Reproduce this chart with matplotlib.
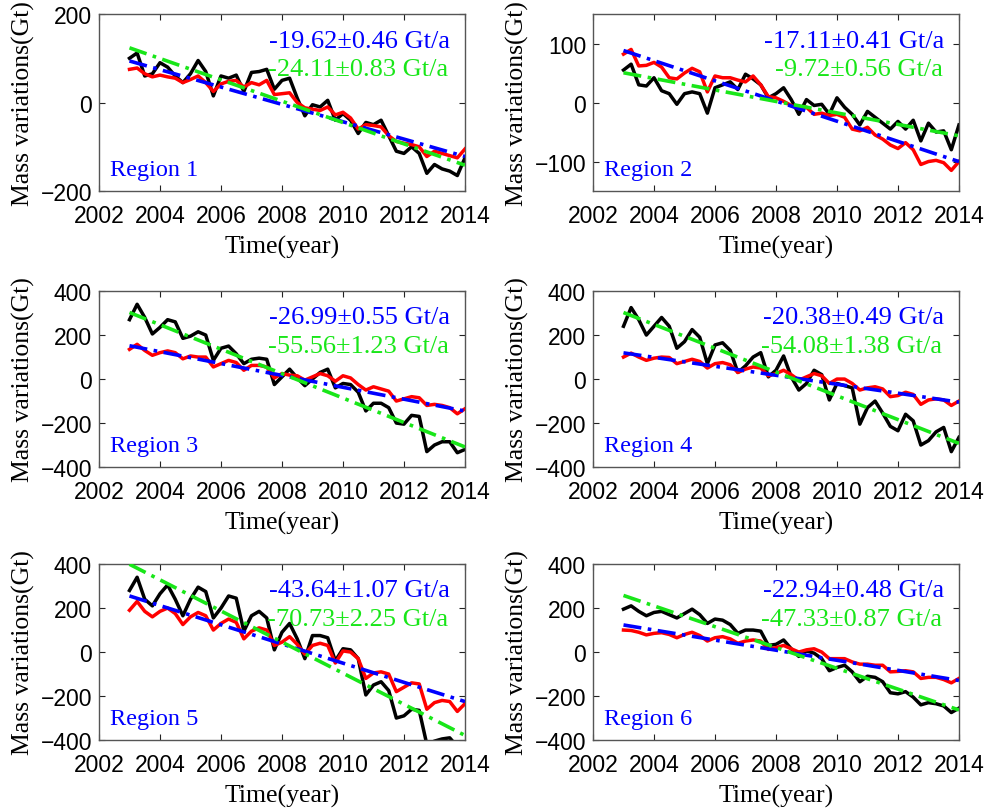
import numpy as np
import matplotlib
matplotlib.use("Agg")
import matplotlib.pyplot as plt

# quarterly sampling of the monthly curves
years = np.arange(2003.0, 2014.01, 0.25)

black_1 = [100, 112, 60, 65, 90, 80, 60, 45, 65, 95, 70, 15, 60, 55, 62, 25, 68, 70, 75, 30,
           50, 55, 10, -30, -5, -10, 5, -40, -25, -40, -70, -45, -50, -40, -75, -110, -115, -100,
           -115, -160, -140, -150, -155, -165, -125]
red_1 = [75, 78, 65, 58, 62, 58, 55, 45, 52, 60, 45, 25, 42, 48, 50, 35, 45, 40, 50, 18,
         20, 22, 0, -12, -15, -18, -10, -28, -22, -35, -60, -50, -52, -55, -75, -88, -92, -95,
         -100, -122, -110, -115, -120, -125, -105]

black_2 = [55, 65, 30, 28, 42, 20, 15, -3, 15, 18, 15, -18, 25, 30, 35, 22, 48, 40, 30, 8,
           15, 25, 5, -20, 5, -5, -3, -20, 8, -8, -20, -38, -15, -25, -35, -45, -32, -45,
           -30, -65, -35, -50, -48, -80, -38]
red_2 = [82, 90, 62, 63, 68, 60, 42, 40, 50, 58, 52, 18, 45, 42, 42, 38, 35, 45, 30, 10,
         8, 2, -5, -10, -8, -20, -18, -22, -20, -25, -45, -48, -42, -55, -62, -72, -78, -68,
         -80, -105, -100, -98, -102, -115, -100]

black_3 = [270, 340, 280, 205, 235, 270, 260, 185, 195, 215, 200, 85, 140, 150, 115, 70, 90, 95,
           90, -25, 10, 45, 5, -30, 0, 30, 45, -40, -20, -25, -60, -145, -110, -110, -130, -200,
           -205, -165, -170, -330, -300, -285, -285, -335, -320]
red_3 = [135, 158, 130, 108, 120, 128, 120, 92, 105, 100, 100, 55, 70, 85, 75, 40, 62, 62, 55, 5,
         25, 18, 15, -5, 10, 25, 15, -10, 15, 5, -25, -50, -35, -45, -55, -100, -90, -80, -85,
         -120, -115, -120, -130, -158, -135]

black_4 = [240, 325, 270, 200, 240, 280, 240, 140, 170, 225, 190, 70, 155, 165, 130, 30, 60, 100,
           120, 10, 40, 105, 10, -50, -20, 40, 20, -95, -20, -30, -40, -205, -130, -100, -155, -215,
           -235, -160, -190, -300, -280, -240, -220, -330, -265]
red_4 = [100, 118, 100, 85, 95, 100, 98, 70, 80, 90, 80, 50, 70, 75, 65, 30, 45, 55, 50, 15,
         25, 40, 20, -5, 10, 25, 15, -20, 0, 0, -20, -50, -40, -35, -45, -80, -75, -60, -70,
         -115, -95, -90, -95, -120, -100]

black_5 = [280, 340, 240, 210, 265, 305, 240, 165, 240, 295, 275, 155, 200, 255, 245, 95, 165, 185,
           155, 10, 90, 130, 60, -30, 75, 75, 65, -40, 15, 10, -30, -195, -150, -135, -175, -300,
           -290, -260, -265, -420, -405, -395, -390, -430, -420]
red_5 = [190, 230, 185, 160, 185, 200, 175, 125, 160, 180, 165, 100, 130, 150, 135, 60, 95, 110,
         100, 30, 45, 70, 35, -10, 30, 40, 30, -50, 5, 0, -30, -120, -95, -90, -100, -180, -160,
         -140, -145, -260, -230, -220, -225, -270, -235]

black_6 = [195, 210, 185, 165, 180, 185, 170, 155, 175, 195, 170, 130, 150, 145, 125, 85, 100, 100,
           95, 30, 35, 55, 15, -20, 5, -5, -30, -85, -70, -60, -90, -135, -110, -115, -135, -185,
           -190, -180, -205, -240, -230, -235, -245, -275, -255]
red_6 = [100, 98, 90, 78, 85, 88, 80, 65, 80, 90, 75, 50, 65, 70, 60, 40, 50, 55, 50, 12,
         20, 30, 15, 0, 10, 15, 0, -30, -30, -30, -45, -55, -55, -60, -60, -90, -88, -85, -90,
         -120, -115, -115, -125, -140, -120]

black_series = [black_1, black_2, black_3, black_4, black_5, black_6]
red_series = [red_1, red_2, red_3, red_4, red_5, red_6]

# linear trends: slope, error (from labels) and value at 2008.5
blue_slope = [-19.62, -17.11, -26.99, -20.38, -43.64, -22.94]
blue_err = [0.46, 0.41, 0.55, 0.49, 1.07, 0.48]
blue_mid = [-14, -6, 3, 7, 15, -3]
green_slope = [-24.11, -9.72, -55.56, -54.08, -70.73, -47.33]
green_err = [0.83, 0.56, 1.23, 1.38, 2.25, 0.87]
green_mid = [-9, -3, -3, 5, 10, -3]

ylims = [(-200, 200), (-150, 150), (-400, 400), (-400, 400), (-400, 400), (-400, 400)]
yticks = [[-200, 0, 200], [-100, 0, 100], [-400, -200, 0, 200, 400],
          [-400, -200, 0, 200, 400], [-400, -200, 0, 200, 400], [-400, -200, 0, 200, 400]]
xticks = [2002, 2004, 2006, 2008, 2010, 2012, 2014]

serif = "Liberation Serif"
sans = "Liberation Sans"
green = "#19e619"

fig = plt.figure(figsize=(9.88, 8.12), dpi=100)
lefts = [0.1002, 0.6002]
bottoms = [0.7635, 0.4236, 0.0874]
heights = [0.218, 0.2167, 0.2167]

for k in range(6):
    row, col = k // 2, k % 2
    ax = fig.add_axes([lefts[col], bottoms[row], 0.3704, heights[row]])

    ax.plot(years, black_series[k], color="black", lw=2.5, zorder=2)
    ax.plot(years, red_series[k], color="red", lw=2.5, zorder=3)

    tt = np.array([2003.0, 2014.0])
    ax.plot(tt, blue_mid[k] + blue_slope[k] * (tt - 2008.5), color="blue", lw=2.6,
            ls=(0, (5, 1.8, 1, 1.8)), zorder=4)
    ax.plot(tt, green_mid[k] + green_slope[k] * (tt - 2008.5), color=green, lw=2.6,
            ls=(0, (5, 1.8, 1, 1.8)), zorder=5)

    ax.set_xlim(2002, 2014)
    ax.set_ylim(*ylims[k])
    ax.set_xticks(xticks)
    ax.set_yticks(yticks[k])
    ax.tick_params(direction="in", top=True, right=True, length=4, width=0.8,
                   labelsize=16.5, colors="#222222")
    ax.tick_params(axis="x", pad=9)
    ax.tick_params(axis="y", pad=5)
    for lab in ax.get_xticklabels() + ax.get_yticklabels():
        lab.set_fontfamily(sans)
        lab.set_color("black")
    for sp in ax.spines.values():
        sp.set_color("#555555")
        sp.set_linewidth(1.0)

    ax.set_xlabel("Time(year)", fontfamily=serif, fontsize=18.5, labelpad=6)
    ax.set_ylabel("Mass variations(Gt)", fontfamily=serif, fontsize=18.5, labelpad=4)

    ax.text(0.96, 0.85, f"{blue_slope[k]:.2f}\u00b1{blue_err[k]:.2f} Gt/a", transform=ax.transAxes,
            ha="right", va="center", color="blue", fontfamily=serif, fontsize=19)
    ax.text(0.955, 0.69, f"{green_slope[k]:.2f}\u00b1{green_err[k]:.2f} Gt/a", transform=ax.transAxes,
            ha="right", va="center", color=green, fontfamily=serif, fontsize=19)
    ax.text(0.03, 0.12, f"Region {k + 1}", transform=ax.transAxes, ha="left", va="center",
            color="blue", fontfamily=serif, fontsize=17.5)

fig.savefig("out.png", dpi=100)
